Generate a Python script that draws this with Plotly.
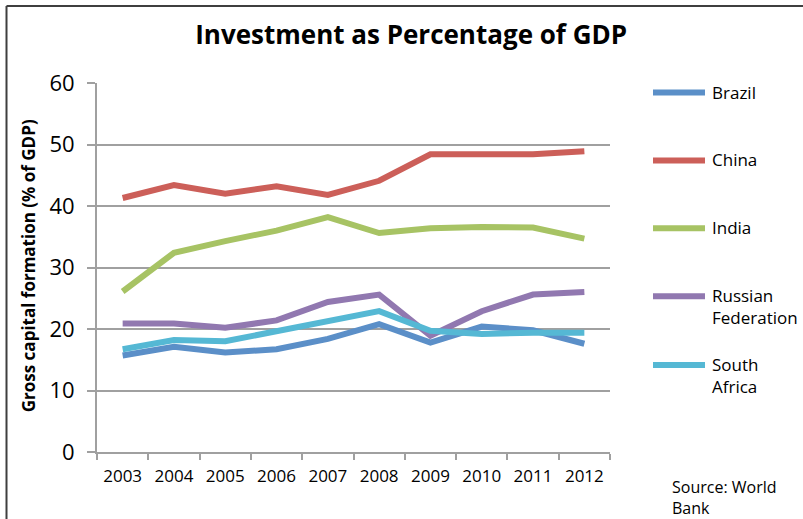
import plotly.graph_objects as go

# Gross capital formation, % of GDP (World Bank)
years = ["2003", "2004", "2005", "2006", "2007", "2008", "2009", "2010", "2011", "2012"]
brazil = [15.7, 17.1, 16.2, 16.7, 18.4, 20.8, 17.8, 20.4, 19.8, 17.6]
china = [41.3, 43.4, 42.0, 43.2, 41.8, 44.1, 48.4, 48.3, 48.4, 48.9]
india = [26.1, 32.4, 34.3, 36.0, 38.2, 35.6, 36.4, 36.6, 36.5, 34.7]
russia = [20.9, 20.9, 20.2, 21.4, 24.4, 25.6, 18.9, 22.9, 25.6, 26.0]
south_africa = [16.7, 18.2, 18.0, 19.7, 21.4, 22.9, 19.7, 19.2, 19.4, 19.4]

series_names = ["Brazil", "China", "India", "Russian<br>Federation", "South<br>Africa"]
series_values = [brazil, china, india, russia, south_africa]
series_colors = ["#5B8FC8", "#CC5F59", "#A7C364", "#9178B0", "#55B8D4"]

W, H = 803, 519
PL, PR, PT, PB = 97, 610, 82.5, 452  # plot area in pixels
FONT = "Open Sans"


def px_x(x):
    return (x - PL) / (PR - PL)


def px_y(y):
    return (PB - y) / (PB - PT)


fig = go.Figure()
for name, vals, col in zip(series_names, series_values, series_colors):
    fig.add_trace(go.Scatter(
        x=years, y=vals, mode="lines", name=name.replace("<br>", " "),
        line=dict(color=col, width=6), showlegend=False,
    ))

shapes = []
annotations = []

# outer frame (top and left edges)
shapes.append(dict(type="line", xref="paper", yref="paper",
                   x0=px_x(6.5), y0=px_y(5.5), x1=px_x(W + 10), y1=px_y(5.5),
                   line=dict(color="#3F3F3F", width=2)))
shapes.append(dict(type="line", xref="paper", yref="paper",
                   x0=px_x(6.5), y0=px_y(5.5), x1=px_x(6.5), y1=px_y(H + 10),
                   line=dict(color="#3F3F3F", width=2)))

# legend drawn at the right of the plot
legend_y = [92, 160, 228, 296, 365]
for name, col, ly in zip(series_names, series_colors, legend_y):
    shapes.append(dict(type="line", xref="paper", yref="paper",
                       x0=px_x(653), x1=px_x(705), y0=px_y(ly), y1=px_y(ly),
                       line=dict(color=col, width=6)))
    annotations.append(dict(xref="paper", yref="paper", x=px_x(710), y=px_y(ly - 14),
                            xanchor="left", yanchor="top", align="left", showarrow=False,
                            text=name, font=dict(family=FONT, size=17, color="#000000")))

annotations.append(dict(xref="paper", yref="paper", x=px_x(670), y=px_y(474),
                        xanchor="left", yanchor="top", align="left", showarrow=False,
                        text="Source: World<br>Bank",
                        font=dict(family=FONT, size=16, color="#000000")))

annotations.append(dict(xref="paper", yref="paper", x=px_x(28), y=px_y(266),
                        xanchor="center", yanchor="middle", textangle=-90, showarrow=False,
                        text="<b>Gross capital formation (% of GDP)</b>",
                        font=dict(family=FONT, size=17, color="#000000")))

fig.update_layout(
    width=W, height=H,
    margin=dict(l=PL, r=W - PR, t=PT, b=H - PB, autoexpand=False),
    paper_bgcolor="white", plot_bgcolor="white",
    title=dict(text="<b>Investment as Percentage of GDP</b>", x=0.512, xanchor="center",
               y=1 - 35 / H, yanchor="middle",
               font=dict(family=FONT, size=26, color="#000000")),
    shapes=shapes, annotations=annotations,
    xaxis=dict(type="category", range=[-0.5, 9.5], tickson="boundaries",
               ticks="outside", ticklen=6, tickwidth=2, tickcolor="#A0A0A0",
               showline=True, linecolor="#A0A0A0", linewidth=2,
               showgrid=False, zeroline=False, ticklabelstandoff=8,
               tickfont=dict(family=FONT, size=17, color="#000000")),
    yaxis=dict(range=[0, 60], dtick=10, ticks="outside", ticklen=8, tickwidth=2,
               tickcolor="#A0A0A0", showline=True, linecolor="#A0A0A0", linewidth=2,
               showgrid=True, gridcolor="#A0A0A0", gridwidth=2, zeroline=False,
               ticklabelstandoff=8,
               tickfont=dict(family=FONT, size=22, color="#000000")),
)

fig.write_html("out.html")
